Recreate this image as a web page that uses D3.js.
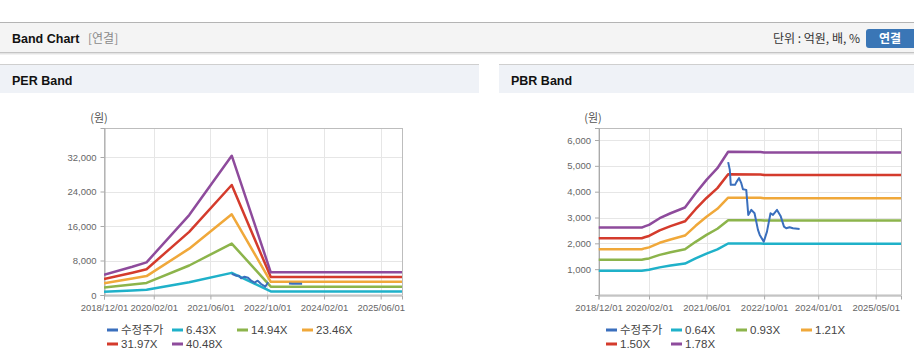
<!DOCTYPE html>
<html><head><meta charset="utf-8">
<script src="https://cdn.jsdelivr.net/npm/d3@7"></script>
<style>
body{margin:0;background:#fff;overflow:hidden}
svg text{font-family:"Liberation Sans",Arial,"Noto Sans CJK KR",sans-serif}
</style></head>
<body><svg id="c" width="914" height="364"></svg>
<script>
// ---------- data ----------
const perXTicks = ["2018-12-01","2020-02-01","2021-06-01","2022-10-01","2024-02-01","2025-06-01"];
const pbrXTicks = ["2018-12-01","2020-02-01","2021-06-01","2022-10-01","2024-01-01","2025-05-01"];
const perYTicks = [0, 8000, 16000, 24000, 32000];
const pbrYTicks = [1000, 2000, 3000, 4000, 5000, 6000];
const xDomain = ["2018-12-01", "2025-12-01"];

const perLabels = ["수정주가", "6.43X", "14.94X", "23.46X", "31.97X", "40.48X"];
const pbrLabels = ["수정주가", "0.64X", "0.93X", "1.21X", "1.50X", "1.78X"];

const perBandDates = ["2018-12-01","2019-08-01","2019-12-01","2020-12-01","2021-12-01","2022-11-01","2025-12-01"];
const per643  = [748, 1042, 1202, 2945, 5131, 836, 836];
const per1494 = [1738, 2420, 2794, 6843, 11922, 1942, 1942];
const per2346 = [2728, 3801, 4387, 10745, 18721, 3050, 3050];
const per3197 = [3718, 5179, 5978, 14642, 25512, 4156, 4156];
const per4048 = [4708, 6558, 7570, 18540, 32303, 5262, 5262];

const pbrBandDates = ["2018-12-01","2019-12-01","2020-01-01","2020-02-01","2020-05-01","2020-08-01","2020-12-01","2021-03-01","2021-06-01","2021-09-01","2021-12-01","2022-09-01","2022-10-01","2025-12-01"];
const pbr064 = [938, 938, 959, 975, 1069, 1138, 1217, 1416, 1603, 1765, 1994, 1992, 1983, 1983];
const pbr093 = [1363, 1363, 1393, 1417, 1553, 1654, 1769, 2058, 2329, 2565, 2897, 2894, 2881, 2881];
const pbr121 = [1774, 1774, 1813, 1844, 2021, 2151, 2301, 2678, 3030, 3337, 3769, 3766, 3749, 3749];
const pbr150 = [2199, 2199, 2247, 2286, 2505, 2667, 2853, 3320, 3756, 4137, 4673, 4668, 4647, 4647];
const pbr178 = [2609, 2609, 2666, 2713, 2973, 3165, 3386, 3939, 4457, 4909, 5545, 5539, 5514, 5514];

const priceDates = ["2021-12-01","2021-12-15","2021-12-23","2022-01-28","2022-02-10","2022-03-03","2022-03-22","2022-04-05","2022-05-03","2022-05-20","2022-06-15","2022-07-12","2022-08-10","2022-08-25","2022-09-28","2022-10-25","2022-11-24","2022-12-15","2023-01-18","2023-02-17","2023-03-18","2023-04-06","2023-05-04","2023-06-02","2023-07-28"];
const priceValues = [5143, 4845, 4264, 4264, 4380, 4523, 4330, 4097, 4070, 3100, 3295, 3165, 2520, 2325, 2066, 2455, 3165, 3100, 3295, 3062, 2648, 2585, 2624, 2585, 2558];

const perPriceDates = ["2021-12-01","2022-01-10","2022-02-01","2022-02-20","2022-03-20","2022-04-20","2022-05-20","2022-06-15","2022-07-12","2022-08-10","2022-09-15","2022-10-09","2022-12-01","2023-04-06","2023-05-04","2023-06-02","2023-07-28"];
const perPriceValues = [4900, 4475, 4475, 3870, 4245, 4010, 3250, 2860, 3320, 2550, 1930, 2950, null, 2650, 2624, 2600, 2600];

const seriesColors = ["#3a6fbd", "#1fb1c9", "#8cb44b", "#f0a83a", "#d43b2c", "#8e4b9c"];

// ---------- drawing ----------
const parse = d3.timeParse("%Y-%m-%d");
const fmt = d3.format(",");
const svg = d3.select("#c");

// header
svg.append("rect").attr("x",0).attr("y",22).attr("width",914).attr("height",1).attr("fill","#b4b4b4");
svg.append("rect").attr("x",0).attr("y",23).attr("width",914).attr("height",30).attr("fill","#f4f4f4");
svg.append("rect").attr("x",0).attr("y",52).attr("width",914).attr("height",1).attr("fill","#c4c4c4");
svg.append("rect").attr("x",0).attr("y",53).attr("width",914).attr("height",1).attr("fill","#e4e4e4");
svg.append("rect").attr("x",0).attr("y",54).attr("width",914).attr("height",1).attr("fill","#f2f2f2");
svg.append("text").attr("x",12).attr("y",43).attr("font-size",12.5).attr("font-weight","bold").attr("fill","#111").text("Band Chart");
svg.append("text").attr("x",88).attr("y",43).attr("font-size",12).attr("fill","#8a8a8a")
  .style("font-family","'Noto Sans CJK KR',sans-serif").text("[연결]");
svg.append("text").attr("x",860).attr("y",43).attr("text-anchor","end").attr("font-size",12).attr("fill","#333")
  .style("font-family","'Noto Sans CJK KR',sans-serif").text("단위 : 억원, 배, %");
svg.append("rect").attr("x",866).attr("y",29).attr("width",56).attr("height",19).attr("rx",3).attr("fill","#3a76b6");
svg.append("text").attr("x",890).attr("y",43).attr("text-anchor","middle").attr("font-size",12).attr("font-weight","bold").attr("fill","#fff")
  .style("font-family","'Noto Sans CJK KR',sans-serif").text("연결");

function panel(cfg) {
  const g = svg.append("g");
  g.append("rect").attr("x",cfg.px).attr("y",64).attr("width",cfg.pw).attr("height",1).attr("fill","#cfcfcf");
  g.append("rect").attr("x",cfg.px).attr("y",65).attr("width",cfg.pw).attr("height",28).attr("fill","#eff2f7");
  g.append("text").attr("x",cfg.px+12).attr("y",85).attr("font-size",12.5).attr("font-weight","bold").attr("fill","#111").text(cfg.title);

  const x = d3.scaleTime().domain(xDomain.map(parse)).range([cfg.left, cfg.right]);
  const y = d3.scaleLinear().domain([0, cfg.ymax]).range([295, 128]);

  // grid
  g.selectAll(null).data(cfg.yTicks.filter(v=>v>0)).enter().append("line")
    .attr("x1",cfg.left).attr("x2",cfg.right).attr("y1",d=>Math.round(y(d))+0.5).attr("y2",d=>Math.round(y(d))+0.5)
    .attr("stroke","#e6e6e6");
  g.selectAll(null).data(cfg.xTicks.slice(1)).enter().append("line")
    .attr("x1",d=>Math.round(x(parse(d)))+0.5).attr("x2",d=>Math.round(x(parse(d)))+0.5).attr("y1",128).attr("y2",295)
    .attr("stroke","#e6e6e6");
  // frame
  g.append("rect").attr("x",cfg.left+0.5).attr("y",128.5).attr("width",cfg.right-cfg.left).attr("height",166.5)
    .attr("fill","none").attr("stroke","#bdbdbd");

  // axes
  const xAxis = d3.axisBottom(x).tickValues(cfg.xTicks.map(parse)).tickFormat(d3.timeFormat("%Y/%m/%d")).tickSize(4).tickPadding(5);
  const xg = g.append("g").attr("transform","translate(0,295.5)").call(xAxis);
  xg.select(".domain").attr("stroke","#aaa");
  xg.selectAll(".tick line").attr("stroke","#aaa");
  xg.selectAll("text").attr("fill","#666").attr("font-size",9.5).style("font-family","'Liberation Sans',Arial,sans-serif");

  const yAxis = d3.axisLeft(y).tickValues(cfg.yTicks).tickFormat(fmt).tickSize(4).tickPadding(4);
  const yg = g.append("g").attr("transform",`translate(${cfg.left+0.5},0)`).call(yAxis);
  yg.select(".domain").attr("stroke","#aaa");
  yg.selectAll(".tick line").attr("stroke","#aaa");
  yg.selectAll("text").attr("fill","#666").attr("font-size",9.5).style("font-family","'Liberation Sans',Arial,sans-serif");

  g.append("text").attr("x",cfg.unitX).attr("y",122).attr("text-anchor","middle").attr("font-size",11).attr("fill","#555")
    .style("font-family","'Noto Sans CJK KR',sans-serif").text("(원)");

  const clip = "clip"+cfg.px;
  g.append("clipPath").attr("id",clip).append("rect").attr("x",cfg.left).attr("y",125).attr("width",cfg.right-cfg.left+2).attr("height",171);
  const lines = g.append("g").attr("clip-path",`url(#${clip})`);

  const line = d3.line().defined(d=>d.v!=null).x(d=>x(d.t)).y(d=>y(d.v));
  cfg.bands.forEach((vals,i)=>{
    const pts = cfg.bandDates.map((d,j)=>({t:parse(d), v:vals[j]}));
    lines.append("path").datum(pts).attr("d",line).attr("fill","none")
      .attr("stroke",seriesColors[i+1]).attr("stroke-width",2.5).attr("stroke-linejoin","round");
  });
  const pp = cfg.priceDates.map((d,j)=>({t:parse(d), v:cfg.price[j]}));
  lines.append("path").datum(pp).attr("d",line).attr("fill","none")
    .attr("stroke",seriesColors[0]).attr("stroke-width",2).attr("stroke-linejoin","round");

  // legend
  cfg.labels.forEach((lab,i)=>{
    const lx = cfg.legendX + (i%4)*65;
    const ly = i<4 ? 330 : 344;
    g.append("rect").attr("x",lx).attr("y",ly-1.5).attr("width",11).attr("height",3).attr("fill",seriesColors[i]);
    g.append("text").attr("x",lx+14).attr("y",ly+4).attr("font-size",11.5).attr("fill","#444")
      .style("font-family", i===0 ? "'Noto Sans CJK KR',sans-serif" : "'Liberation Sans',Arial,sans-serif").text(lab);
  });
}

panel({px:0, pw:479, title:"PER Band", left:104, right:402, ymax:38725, yTicks:perYTicks, xTicks:perXTicks, unitX:99,
  bandDates:perBandDates, bands:[per643,per1494,per2346,per3197,per4048],
  priceDates:perPriceDates, price:perPriceValues, labels:perLabels, legendX:107});
panel({px:499, pw:415, title:"PBR Band", left:598.5, right:901, ymax:6465, yTicks:pbrYTicks, xTicks:pbrXTicks, unitX:593,
  bandDates:pbrBandDates, bands:[pbr064,pbr093,pbr121,pbr150,pbr178],
  priceDates:priceDates, price:priceValues, labels:pbrLabels, legendX:606});
</script></body></html>
